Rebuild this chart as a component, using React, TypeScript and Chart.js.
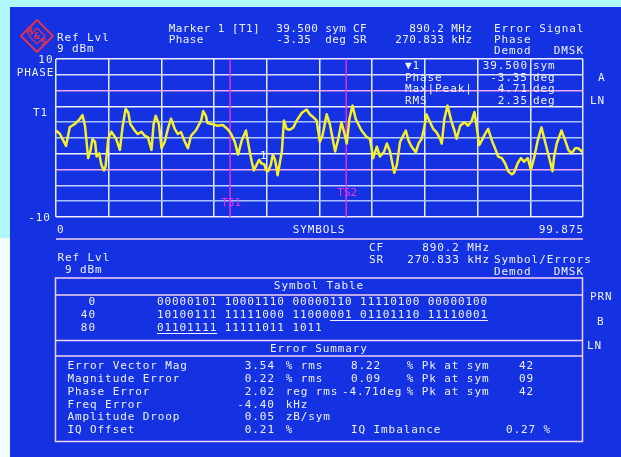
import React, { useEffect, useRef } from "react";
import { Chart, registerables } from "chart.js";

Chart.register(...registerables);

// Phase error trace of the demodulated DMSK burst (symbol index -> degrees)
const traceSymbols = [
  0.0, 0.75, 1.9, 2.6, 3.6, 4.5, 5.0, 5.5, 6.1, 6.5, 6.9, 7.4, 7.7, 8.2, 8.6, 9.1, 9.4, 9.9,
  10.5, 11.4, 12.1, 12.6, 13.2, 13.7, 14.1, 14.9, 15.5, 16.2, 16.8, 17.4, 18.1, 18.5, 18.9, 19.5,
  20.0, 20.6, 21.2, 21.8, 22.5, 23.1, 23.7, 24.3, 25.0, 25.6, 26.5, 27.5, 27.9, 28.4, 28.7, 29.7,
  30.6, 31.6, 32.5, 33.2, 33.9, 34.5, 35.2, 36.0, 36.6, 37.1, 37.5, 38.0, 38.5, 38.9, 39.5, 39.8,
  40.2, 40.7, 41.1, 41.5, 41.8, 42.0, 42.8, 43.2, 43.7, 44.3, 45.0, 45.6, 46.6, 47.5, 48.1, 48.8,
  49.4, 50.0, 50.5, 51.3, 51.9, 52.9, 53.5, 54.1, 54.6, 55.1, 55.6, 56.2, 56.8, 57.9, 58.9, 59.5,
  60.1, 60.8, 61.4, 62.2, 62.7, 63.3, 64.1, 64.6, 65.2, 65.8, 66.3, 66.8, 67.4, 68.2, 68.7, 69.3,
  69.8, 70.2, 70.9, 71.5, 72.1, 72.8, 73.1, 73.6, 74.2, 74.9, 75.5, 75.9, 76.6, 77.4, 78.1, 78.8,
  79.3, 79.7, 80.2, 80.7, 81.3, 81.9, 82.6, 83.2, 83.8, 84.5, 85.1, 85.7, 86.4, 86.8, 87.5, 88.1,
  88.7, 89.4, 90.0, 90.6, 91.3, 92.0, 92.7, 93.4, 94.1, 94.4, 94.9, 95.8, 96.5, 97.1, 97.7, 98.4,
  99.0, 99.6, 99.875,
];
const tracePhase = [
  0.95, 0.5, -1.0, 1.35, 1.8, 2.4, 2.9, 1.55, -2.55, -1.7, -0.15, -0.5, -2.35, -1.95, -3.4, -4.1, -3.6, -0.1,
  0.8, -0.1, -1.5, 1.35, 3.7, 3.2, 1.75, 0.95, 0.5, 0.8, 0.3, 0.1, -1.5, 1.75, 2.8, 1.75,
  -1.3, -0.5, 1.15, 2.45, 1.15, 0.5, 0.75, -0.3, -1.3, 0.3, 0.95, 2.2, 3.4, 2.8, 1.9, 1.75,
  1.55, 1.65, 1.15, 0.5, -0.5, -2.1, -0.3, 0.95, -1.3, -3.0, -4.1, -3.4, -2.75, -3.2, -3.35, -4.1,
  -4.2, -3.4, -2.1, -2.75, -3.8, -4.71, -1.7, 2.2, 1.15, 1.05, 1.35, 2.2, 3.2, 3.6, 3.0, 2.6,
  2.2, -0.5, 0.3, 3.0, 1.75, -1.7, -0.1, 2.0, 0.75, -0.7, 2.4, 4.1, 2.4, 0.95, 0.1, -0.1,
  -2.55, -1.1, -2.35, -1.7, -0.7, -1.7, -4.4, -3.4, -0.5, 0.3, 0.95, -0.3, -1.1, -1.8, -0.7, -0.1,
  1.35, 3.0, 2.0, 1.15, 0.75, -0.1, -0.7, 2.4, 4.1, 2.2, 0.95, -0.1, 1.55, 2.0, 1.55, 2.2,
  3.3, 1.55, -0.9, -0.3, 0.5, 1.15, -0.3, -1.3, -2.35, -2.55, -3.2, -4.2, -4.6, -4.4, -3.2, -2.55,
  -3.0, -2.55, -4.0, -2.55, -0.3, 1.35, -0.5, -2.35, -4.2, -2.35, -0.7, 0.95, -0.3, -1.5, -1.95, -1.3,
  -1.3, -1.7, -1.5,
];

// Axis ranges
const symbolMin = 0;
const symbolMax = 99.875;
const phaseMin = -10;
const phaseMax = 10;

// Training sequence markers
const tsLabels = ["TS1", "TS2"];
const tsSymbols = [33, 55];

// Marker 1 readout
const markerSymbol = 39.5;
const markerPhase = -3.35;
const markerMaxPeak = 4.71;
const markerRms = 2.35;

// Symbol table
const symbolRowStarts = [0, 40, 80];
const symbolRowBits = [
  "00000101 10001110 00000110 11110100 00000100",
  "10100111 11111000 11000001 01101110 11110001",
  "01101111 11111011 1011",
];
const symbolRowUnderline = [null, [23, 44], [0, 8]] as (number[] | null)[];

// Error summary
const errLabels = ["Error Vector Mag", "Magnitude Error", "Phase Error", "Freq Error", "Amplitude Droop", "IQ Offset"];
const errValues = ["3.54", "0.22", "2.02", "-4.40", "0.05", "0.21"];
const errUnits = ["% rms", "% rms", "reg rms", "kHz", "zB/sym", "%"];
const errPeaks = ["8.22", "0.09", "-4.71deg", "", "", ""];
const errPeakSyms = ["42", "09", "42", "", "", ""];

const FONT = "'DejaVu Sans Mono', monospace";
const TEXT = "#eef0ff";
const W = 621;
const H = 457;

// Grid line tints, keyed by phase value
const phaseGridColors: Record<string, string> = {
  "10": "#eeeeff", "8": "#d8dcff", "6": "#f0a8f0", "4": "#f2f2ff", "2": "#a8c4ff",
  "0": "#b4c8ff", "-2": "#f2f2ff", "-4": "#f0a8f0", "-6": "#c8d6ff", "-8": "#a8c4ff", "-10": "#eeeeff",
};

type TxtProps = {
  x: number;
  y: number;
  children: React.ReactNode;
  align?: "left" | "right" | "center";
  color?: string;
  spacing?: number;
};

function Txt({ x, y, children, align = "left", color = TEXT, spacing = 0.9 }: TxtProps) {
  const style: React.CSSProperties = {
    position: "absolute",
    top: y - 7,
    lineHeight: "14px",
    whiteSpace: "pre",
    color,
    fontFamily: FONT,
    fontSize: 11,
    letterSpacing: `${spacing}px`,
  };
  if (align === "left") style.left = x;
  else if (align === "right") style.right = W - x - spacing;
  else {
    style.left = x;
    style.transform = "translateX(-50%)";
  }
  return <div style={style}>{children}</div>;
}

const markerLabels = {
  id: "markerLabels",
  afterDatasetsDraw(chart: any) {
    const { ctx, scales } = chart;
    const x = scales.x;
    const y = scales.y;
    ctx.save();
    ctx.font = `11px ${FONT}`;
    ctx.textAlign = "center";
    ctx.textBaseline = "middle";
    const levels = [-8.3, -7.0];
    tsLabels.forEach((label, i) => {
      const px = x.getPixelForValue(tsSymbols[i]);
      const py = y.getPixelForValue(levels[i]);
      ctx.fillStyle = "#f034e6";
      ctx.fillText(label, px + 1, py);
    });
    ctx.fillStyle = "#ffffff";
    ctx.fillText("1", x.getPixelForValue(markerSymbol) - 1, y.getPixelForValue(markerPhase) - 8);
    ctx.restore();
  },
};

function PhaseChart() {
  const ref = useRef<HTMLCanvasElement | null>(null);
  useEffect(() => {
    if (!ref.current) return;
    const trace = traceSymbols.map((s, i) => ({ x: s, y: tracePhase[i] }));
    const tsSets = tsSymbols.map((s) => ({
      data: [
        { x: s, y: phaseMin },
        { x: s, y: phaseMax },
      ],
      borderColor: "#e82ee0",
      borderWidth: 1.5,
      pointRadius: 0,
    }));
    const chart = new Chart(ref.current, {
      type: "line",
      data: {
        datasets: [
          {
            data: trace,
            borderColor: "#f6f02a",
            borderWidth: 2.5,
            pointRadius: 0,
            tension: 0,
            borderJoinStyle: "round",
          },
          ...tsSets,
        ],
      },
      options: {
        animation: false,
        responsive: false,
        parsing: true,
        layout: { padding: { left: 56, top: 59, right: W - 583, bottom: H - 217 } },
        plugins: { legend: { display: false }, tooltip: { enabled: false } },
        scales: {
          x: {
            type: "linear",
            min: symbolMin,
            max: symbolMax,
            afterBuildTicks: (scale: any) => {
              const step = (symbolMax - symbolMin) / 10;
              scale.ticks = Array.from({ length: 11 }, (_, i) => ({ value: symbolMin + i * step }));
            },
            ticks: { display: false },
            grid: { color: "#e6eaff", lineWidth: 1.5, drawTicks: false },
            border: { display: false },
          },
          y: {
            type: "linear",
            min: phaseMin,
            max: phaseMax,
            ticks: { display: false, stepSize: 2 },
            grid: {
              color: (c: any) => phaseGridColors[String(Math.round(c.tick?.value ?? 0))] || "#eeeeff",
              lineWidth: 1.5,
              drawTicks: false,
            },
            border: { display: false },
          },
        },
      },
      plugins: [markerLabels],
    });
    return () => chart.destroy();
  }, []);
  return (
    <canvas
      ref={ref}
      width={W}
      height={H}
      style={{ position: "absolute", left: 0, top: 0, width: W, height: H }}
    />
  );
}

function Logo() {
  return (
    <svg style={{ position: "absolute", left: 20, top: 19 }} width={34} height={34} viewBox="0 0 34 34">
      <polygon points="17,1 33,17 17,33 1,17" fill="none" stroke="#e3304e" strokeWidth={2} />
      <polygon points="17,9 25,17 17,25 9,17" fill="none" stroke="#e3304e" strokeWidth={1.2} />
      <text x={10} y={15} fill="#e3304e" fontSize={9} fontFamily="DejaVu Sans" fontWeight="bold" textAnchor="middle">R</text>
      <text x={17} y={20} fill="#e3304e" fontSize={8} fontFamily="DejaVu Sans" fontWeight="bold" textAnchor="middle">&amp;</text>
      <text x={24} y={26} fill="#e3304e" fontSize={9} fontFamily="DejaVu Sans" fontWeight="bold" textAnchor="middle">S</text>
    </svg>
  );
}

function Frames() {
  const c = "#f2d2f6";
  return (
    <svg style={{ position: "absolute", left: 0, top: 0 }} width={W} height={H}>
      <line x1={56} y1={239} x2={583} y2={239} stroke={c} strokeWidth={1.5} />
      <rect x={55.5} y={278} width={527} height={163.5} fill="none" stroke={c} strokeWidth={1.5} />
      <line x1={55.5} y1={295} x2={582.5} y2={295} stroke={c} strokeWidth={1.5} />
      <line x1={55.5} y1={340.5} x2={582.5} y2={340.5} stroke={c} strokeWidth={1.5} />
      <line x1={55.5} y1={356} x2={582.5} y2={356} stroke={c} strokeWidth={1.5} />
    </svg>
  );
}

function BitRow({ bits, underline }: { bits: string; underline: number[] | null }) {
  if (!underline) return <>{bits}</>;
  const [a, b] = underline;
  const u: React.CSSProperties = { textDecoration: "underline", textUnderlineOffset: "2px" };
  return (
    <>
      {bits.slice(0, a)}
      <span style={u}>{bits.slice(a, b)}</span>
      {bits.slice(b)}
    </>
  );
}

export default function App() {
  const errRowY = [365.5, 378.5, 391.5, 404.5, 417, 430];
  const symRowY = [302, 315, 328];
  const hs = 0.4;
  return (
    <div
      style={{
        position: "fixed",
        left: 0,
        top: 0,
        width: W,
        height: H,
        overflow: "hidden",
        background: "#f2fbff",
      }}
    >
      <div style={{ position: "absolute", left: 0, top: 0, width: W, height: 7, background: "#b0f8ff" }} />
      <div style={{ position: "absolute", left: 0, top: 0, width: 10, height: 238, background: "#b0f8ff" }} />
      <div style={{ position: "absolute", left: 10, top: 7, width: W - 10, height: H - 7, background: "#1432e2" }} />

      <PhaseChart />
      <Frames />
      <Logo />

      {/* top header */}
      <Txt x={57} y={37.5}>Ref Lvl</Txt>
      <Txt x={57} y={49}>9 dBm</Txt>
      <Txt x={168.7} y={29} spacing={hs}>Marker 1 [T1]</Txt>
      <Txt x={168.7} y={39.5} spacing={hs}>Phase</Txt>
      <Txt x={346} y={29} align="right" spacing={hs}>{`${markerSymbol.toFixed(3)} sym`}</Txt>
      <Txt x={346} y={39.5} align="right" spacing={hs}>{`${markerPhase.toFixed(2)}  deg`}</Txt>
      <Txt x={353} y={29} spacing={hs}>CF</Txt>
      <Txt x={353} y={39.5} spacing={hs}>SR</Txt>
      <Txt x={472} y={29} align="right" spacing={hs}>890.2 MHz</Txt>
      <Txt x={472} y={39.5} align="right" spacing={hs}>270.833 kHz</Txt>
      <Txt x={494} y={29}>Error Signal</Txt>
      <Txt x={494} y={39.5}>Phase</Txt>
      <Txt x={494} y={50.5}>Demod</Txt>
      <Txt x={583} y={50.5} align="right">DMSK</Txt>

      {/* axis labels */}
      <Txt x={52.5} y={60} align="right">{String(phaseMax)}</Txt>
      <Txt x={53.5} y={73.3} align="right">PHASE</Txt>
      <Txt x={33} y={113}>T1</Txt>
      <Txt x={50} y={217.7} align="right">{String(phaseMin)}</Txt>
      <Txt x={57} y={230}>{String(symbolMin)}</Txt>
      <Txt x={319} y={230} align="center">SYMBOLS</Txt>
      <Txt x={583} y={230} align="right">{String(symbolMax)}</Txt>

      {/* marker readout */}
      <Txt x={405} y={65.7}>▼1</Txt>
      <Txt x={405} y={78.3}>Phase</Txt>
      <Txt x={405} y={89.3}>Max|Peak|</Txt>
      <Txt x={405} y={100.7}>RMS</Txt>
      <Txt x={527} y={65.7} align="right">{markerSymbol.toFixed(3)}</Txt>
      <Txt x={527} y={78.3} align="right">{markerPhase.toFixed(2)}</Txt>
      <Txt x={527} y={89.3} align="right">{markerMaxPeak.toFixed(2)}</Txt>
      <Txt x={527} y={100.7} align="right">{markerRms.toFixed(2)}</Txt>
      <Txt x={533} y={65.7}>sym</Txt>
      <Txt x={533} y={78.3}>deg</Txt>
      <Txt x={533} y={89.3}>deg</Txt>
      <Txt x={533} y={100.7}>deg</Txt>

      {/* side softkey labels */}
      <Txt x={598} y={78.3}>A</Txt>
      <Txt x={590} y={100.7}>LN</Txt>
      <Txt x={590} y={296.7}>PRN</Txt>
      <Txt x={597} y={321.7}>B</Txt>
      <Txt x={587} y={346}>LN</Txt>

      {/* second header */}
      <Txt x={57.5} y={258.3}>Ref Lvl</Txt>
      <Txt x={57.5} y={270}> 9 dBm</Txt>
      <Txt x={369} y={248.3}>CF</Txt>
      <Txt x={369} y={260}>SR</Txt>
      <Txt x={489} y={248.3} align="right">890.2 MHz</Txt>
      <Txt x={489} y={260} align="right">270.833 kHz</Txt>
      <Txt x={494} y={260}>Symbol/Errors</Txt>
      <Txt x={494} y={271.7}>Demod</Txt>
      <Txt x={583} y={271.7} align="right">DMSK</Txt>

      {/* symbol table */}
      <Txt x={319} y={286} align="center">Symbol Table</Txt>
      {symbolRowStarts.map((s, i) => (
        <React.Fragment key={s}>
          <Txt x={95} y={symRowY[i]} align="right">{String(s)}</Txt>
          <Txt x={157} y={symRowY[i]}>
            <BitRow bits={symbolRowBits[i]} underline={symbolRowUnderline[i]} />
          </Txt>
        </React.Fragment>
      ))}

      {/* error summary */}
      <Txt x={319} y={349} align="center">Error Summary</Txt>
      {errLabels.map((label, i) => (
        <React.Fragment key={label}>
          <Txt x={67.5} y={errRowY[i]}>{label}</Txt>
          <Txt x={274} y={errRowY[i]} align="right">{errValues[i]}</Txt>
          <Txt x={285.7} y={errRowY[i]}>{errUnits[i]}</Txt>
          {errPeaks[i] && (
            <Txt x={errPeaks[i].length > 5 ? 342 : 351} y={errRowY[i]}>{errPeaks[i]}</Txt>
          )}
          {errPeakSyms[i] && (
            <>
              <Txt x={406.7} y={errRowY[i]}>% Pk at sym</Txt>
              <Txt x={519} y={errRowY[i]}>{errPeakSyms[i]}</Txt>
            </>
          )}
        </React.Fragment>
      ))}
      <Txt x={351} y={430}>IQ Imbalance</Txt>
      <Txt x={506} y={430}>0.27 %</Txt>
    </div>
  );
}
